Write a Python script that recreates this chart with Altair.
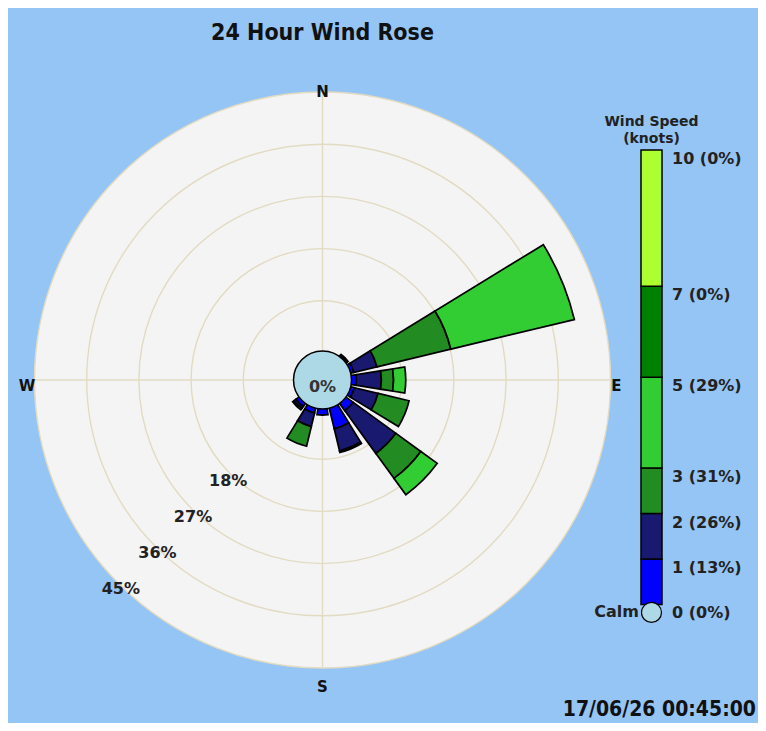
import math
import altair as alt
import pandas as pd

# ---------------- data ----------------
directions = ["N", "NNE", "NE", "ENE", "E", "ESE", "SE", "SSE",
              "S", "SSW", "SW", "WSW", "W", "WNW", "NW", "NNW"]
band_names = ["0-1", "1-2", "2-3", "3-5", "5-7", "7-10"]
band_colors = ["#0000ff", "#191970", "#228b22", "#32cd32", "#008000", "#adff2f"]

# percentage of time per direction and speed band (knots)
pct_0_1 = [0, 0, 0.5, 0.9, 1.2, 1.0, 1.9, 4.0, 1.4, 1.2, 1.0, 0, 0, 0, 0, 0]
pct_1_2 = [0, 0, 0.1, 4.1, 4.3, 4.2, 9.1, 3.9, 0, 2.4, 0.4, 0, 0, 0, 0, 0]
pct_2_3 = [0, 0, 0.2, 13.1, 2.1, 5.5, 5.3, 0.3, 0, 3.5, 0.3, 0, 0, 0, 0, 0]
pct_3_5 = [0, 0, 0, 21.9, 2.1, 0, 3.5, 0, 0, 0, 0, 0, 0, 0, 0, 0]
pct_5_7 = [0, 0, 0, 0, 0, 0, 0, 0, 0, 0, 0, 0, 0, 0, 0, 0]
pct_7_10 = [0, 0, 0, 0, 0, 0, 0, 0, 0, 0, 0, 0, 0, 0, 0, 0]
band_series = [pct_0_1, pct_1_2, pct_2_3, pct_3_5, pct_5_7, pct_7_10]

calm_pct = 0
speed_bounds = [0, 1, 2, 3, 5, 7, 10]
band_pct = [13, 26, 31, 29, 0, 0]

ring_values = [9, 18, 27, 36, 45]
ring_label_values = [18, 27, 36, 45]
ring_label_pos = [19.2, 27.9, 36.6, 45.4]
ring_label_deg = [223.0, 223.3, 223.6, 224.0]

compass_ns = ["N", "S"]
compass_ns_deg = [0, 180]
compass_ns_r = [45.0, 48.3]
compass_ew = ["E", "W"]
compass_ew_deg = [90, 270]
compass_ew_r = [46.0, 46.3]

title_text = "24 Hour Wind Rose"
stamp_text = "17/06/26 00:45:00"

# ---------------- style ----------------
BG = "#95c5f5"
DISK = "#f4f4f4"
GRID = "#e2dbc2"
CALM = "#add8e6"
FONT = "DejaVu Sans"
FONT_C = "DejaVu Sans Condensed, DejaVu Sans"
TAU = 2 * math.pi
W, H = 750, 715
CX, CY = 314.5, 372
SECTOR = 22.5
WEDGE = 18.0

TH = alt.Scale(type="linear", domain=[0, 360], range=[0, TAU])
RS = alt.Scale(type="linear", domain=[0, 45], range=[27, 288], zero=False)
cx = alt.value(CX)
cy = alt.value(CY)

# wedge segments
rows = []
for i, d in enumerate(directions):
    cum = 0.0
    for k, series in enumerate(band_series):
        v = series[i]
        if v > 0:
            rows.append({"dir": d, "band": band_names[k], "color": band_colors[k],
                         "t1": i * SECTOR - WEDGE / 2, "t2": i * SECTOR + WEDGE / 2,
                         "r0": cum, "r1": cum + v})
            cum += v
seg = pd.DataFrame(rows)

disk = alt.Chart(pd.DataFrame({"r": [max(ring_values)]})).mark_arc(
    fill=DISK, strokeWidth=0
).encode(theta=alt.value(0), theta2=alt.value(TAU + 0.001),
         radius=alt.Radius("r:Q", scale=RS, stack=None), radius2=alt.value(0), x=cx, y=cy)

rings = alt.Chart(pd.DataFrame({"r": ring_values})).mark_arc(
    fill="transparent", stroke=GRID, strokeWidth=1.4
).encode(theta=alt.value(0), theta2=alt.value(TAU + 0.001),
         radius=alt.Radius("r:Q", scale=RS, stack=None), radius2=alt.value(0), x=cx, y=cy)

cross = alt.Chart(pd.DataFrame({"deg": [0, 90, 180, 270], "r": [45, 45, 45, 45]})).mark_arc(
    fill="transparent", stroke=GRID, strokeWidth=1.4
).encode(theta=alt.Theta("deg:Q", scale=TH, stack=None), theta2="deg:Q",
         radius=alt.Radius("r:Q", scale=RS, stack=None), radius2=alt.value(0), x=cx, y=cy)

wedges = alt.Chart(seg).mark_arc(stroke="black", strokeWidth=1.7, strokeJoin="miter").encode(
    theta=alt.Theta("t1:Q", scale=TH, stack=None), theta2="t2:Q",
    radius=alt.Radius("r1:Q", scale=RS, stack=None), radius2="r0:Q",
    fill=alt.Fill("color:N", scale=None), x=cx, y=cy,
    tooltip=["dir:N", "band:N"]
)

calm = alt.Chart(pd.DataFrame({"p": [calm_pct]})).mark_arc(
    fill=CALM, stroke="black", strokeWidth=1.5
).encode(theta=alt.value(0), theta2=alt.value(TAU + 0.001),
         radius=alt.value(29), radius2=alt.value(0), x=cx, y=cy)

calm_txt = alt.Chart(pd.DataFrame({"t": [f"{calm_pct}%"]})).mark_text(
    font=FONT, fontWeight="bold", fontSize=16, color="#333333", dy=7
).encode(text="t:N", x=cx, y=cy)

ring_lbl = alt.Chart(pd.DataFrame({
    "t": [f"{v}%" for v in ring_label_values],
    "pos": ring_label_pos, "deg": ring_label_deg})
).mark_text(font=FONT, fontWeight="bold", fontSize=16, color="#222222").encode(
    theta=alt.Theta("deg:Q", scale=TH, stack=None),
    radius=alt.Radius("pos:Q", scale=RS, stack=None), text="t:N", x=cx, y=cy)

comp_ns = alt.Chart(pd.DataFrame({"t": compass_ns, "deg": compass_ns_deg, "r": compass_ns_r})).mark_text(
    font=FONT, fontWeight="bold", fontSize=15, color="#111111"
).encode(theta=alt.Theta("deg:Q", scale=TH, stack=None),
         radius=alt.Radius("r:Q", scale=RS, stack=None), text="t:N", x=cx, y=cy)

comp_ew = alt.Chart(pd.DataFrame({"t": compass_ew, "deg": compass_ew_deg, "r": compass_ew_r})).mark_text(
    font=FONT, fontWeight="bold", fontSize=15, color="#111111", dy=6
).encode(theta=alt.Theta("deg:Q", scale=TH, stack=None),
         radius=alt.Radius("r:Q", scale=RS, stack=None), text="t:N", x=cx, y=cy)

# ---------------- legend ----------------
YS = alt.Scale(type="linear", domain=[0, 10], range=[596.4, 142])
leg_df = pd.DataFrame({"lo": speed_bounds[:-1], "hi": speed_bounds[1:],
                       "color": band_colors, "pct": band_pct})
leg_bar = alt.Chart(leg_df).mark_rect(stroke="black", strokeWidth=1.5).encode(
    x=alt.value(633), x2=alt.value(654),
    y=alt.Y("lo:Q", scale=YS, axis=None), y2="hi:Q",
    fill=alt.Fill("color:N", scale=None))

lab_df = pd.DataFrame({
    "s": speed_bounds,
    "t": [f"{s} ({p}%)" for s, p in zip(speed_bounds, [calm_pct] + band_pct)]})
leg_lab = alt.Chart(lab_df).mark_text(
    font=FONT, fontWeight="bold", fontSize=16, align="left", color="#222222", dy=9
).encode(x=alt.value(664), y=alt.Y("s:Q", scale=YS, axis=None), text="t:N")

leg_calm = alt.Chart(pd.DataFrame({"s": [0]})).mark_point(
    shape="circle", filled=True, fill=CALM, stroke="black", strokeWidth=1.2,
    size=400, opacity=1, yOffset=8
).encode(x=alt.value(643.5), y=alt.Y("s:Q", scale=YS, axis=None))

leg_calm_txt = alt.Chart(pd.DataFrame({"s": [0], "t": ["Calm"]})).mark_text(
    font=FONT, fontWeight="bold", fontSize=16, align="right", color="#222222", dy=8
).encode(x=alt.value(631), y=alt.Y("s:Q", scale=YS, axis=None), text="t:N")

leg_title = alt.Chart(pd.DataFrame({"t": ["Wind Speed", "(knots)"], "yy": [114, 131]})).mark_text(
    font=FONT, fontWeight="bold", fontSize=14, color="#222222"
).encode(x=alt.value(643.5), y=alt.Y("yy:Q", scale=None), text="t:N")

title = alt.Chart(pd.DataFrame({"t": [title_text]})).mark_text(
    font=FONT_C, fontWeight="bold", fontSize=23, color="#111111"
).encode(x=alt.value(314.5), y=alt.value(25), text="t:N")

stamp = alt.Chart(pd.DataFrame({"t": [stamp_text]})).mark_text(
    font=FONT_C, fontWeight="bold", fontSize=21, color="#111111", align="right"
).encode(x=alt.value(748), y=alt.value(702), text="t:N")

chart = alt.layer(
    disk, rings, cross, wedges, calm, calm_txt, ring_lbl, comp_ns, comp_ew,
    leg_bar, leg_calm, leg_lab, leg_calm_txt, leg_title, title, stamp
).properties(
    width=W, height=H, background=BG, padding=0,
    autosize=alt.AutoSizeParams(type="none")
).configure_view(stroke=None)

chart.save("out.html", embed_options={"renderer": "svg", "actions": False})
